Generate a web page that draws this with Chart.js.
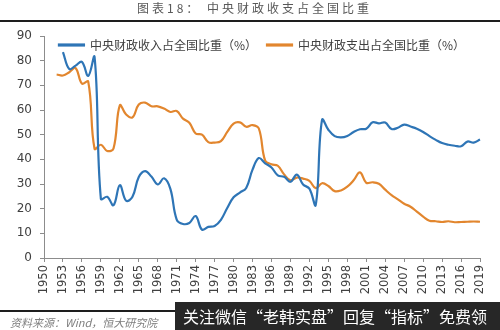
<!DOCTYPE html>
<html>
<head>
<meta charset="utf-8">
<script src="https://cdn.jsdelivr.net/npm/chart.js@4/dist/chart.umd.min.js"></script>
<style>
  body { margin: 0; background: #fff; }
  #wrap { position: relative; width: 500px; height: 330px; overflow: hidden; font-family: "Noto Sans CJK SC", sans-serif; }
  #chart { position: absolute; left: 0; top: 0; }
  .cap { position: absolute; top: 0; font-size: 12px; line-height: 16px; color: #595959; letter-spacing: 3px; white-space: nowrap; }
  .rule { position: absolute; left: 0; width: 500px; background: #1e1e1e; }
  .src { position: absolute; left: 10px; top: 314px; font-size: 11px; line-height: 16px; color: #7f7f7f; font-style: italic; white-space: nowrap; }
  .banner { position: absolute; left: 175px; top: 302px; width: 325px; height: 28px; background: #272727; color: #fff; font-size: 16px; line-height: 28px; padding-left: 8px; box-sizing: border-box; white-space: nowrap; }
</style>
</head>
<body>
<div id="wrap">
  <canvas id="chart" width="500" height="330"></canvas>
  <div class="cap" style="left:137px">图表18：</div>
  <div class="cap" style="left:207px">中央财政收支占全国比重</div>
  <div class="rule" style="top:20px;height:2px"></div>
  <div class="rule" style="top:310px;height:2px"></div>
  <div class="src">资料来源：Wind，恒大研究院</div>
  <div class="banner">关注微信“老韩实盘”回复“指标”免费领</div>
</div>
<script>
const years = [
  '1950','1951','1952','1953','1954','1955','1956','1957','1958','1959',
  '1960','1961','1962','1963','1964','1965','1966','1967','1968','1969',
  '1970','1971','1972','1973','1974','1975','1976','1977','1978','1979',
  '1980','1981','1982','1983','1984','1985','1986','1987','1988','1989',
  '1990','1991','1992','1993','1994','1995','1996','1997','1998','1999',
  '2000','2001','2002','2003','2004','2005','2006','2007','2008','2009',
  '2010','2011','2012','2013','2014','2015','2016','2017','2018','2019'
]

// 中央财政收入占全国比重（%）
const revenueShare = [
  null, null, null, 83.5, 76.6, 78.0, 79.5, 73.8, 81.5, 24.0,
  24.8, 21.4, 29.5, 23.2, 24.8, 32.8, 35.2, 33.0, 29.8, 32.3,
  28.0, 15.6, 13.8, 14.2, 17.0, 11.5, 12.6, 13.0, 15.5, 20.3,
  24.6, 26.5, 28.4, 35.8, 40.5, 38.4, 36.7, 33.5, 32.9, 30.9,
  33.8, 29.8, 28.1, 21.5, 56.0, 52.0, 49.4, 48.9, 49.5, 51.1,
  52.2, 52.4, 55.0, 54.6, 54.9, 52.3, 52.8, 54.1, 53.3, 52.4,
  51.1, 49.4, 47.9, 46.6, 45.9, 45.5, 45.3, 47.2, 46.8, 48.0
]

// 中央财政支出占全国比重（%）
const spendingShare = [
  null, null, 74.4, 74.0, 75.3, 77.0, 70.7, 71.5, 44.3, 45.9,
  43.4, 44.4, 61.9, 58.2, 57.0, 62.2, 63.0, 61.5, 61.5, 60.6,
  59.2, 59.6, 56.5, 54.8, 50.5, 50.0, 47.0, 46.8, 47.4, 51.1,
  54.5, 55.0, 53.2, 53.9, 52.5, 39.5, 38.0, 37.4, 33.9, 31.5,
  32.6, 32.2, 31.3, 28.3, 30.3, 29.2, 27.1, 27.4, 28.9, 31.5,
  34.7, 30.5, 30.7, 30.1, 27.7, 25.5, 23.8, 22.0, 20.8, 18.8,
  16.8, 15.1, 14.9, 14.6, 14.9, 14.5, 14.6, 14.7, 14.8, 14.7
]

const axisColor = '#8c8c8c'
const textColor = '#404040'

// the legend is laid out above the plot, then pushed down so it sits inside it
const legendNudge = {
  id: 'legendNudge',
  afterUpdate(chart) {
    chart.legend.top += 25
    chart.legend.bottom += 25
  }
}

new Chart(document.getElementById('chart'), {
  type: 'line',
  data: {
    labels: years,
    datasets: [{
      label: '中央财政收入占全国比重（%）',
      data: revenueShare,
      borderColor: '#2e75b6',
      backgroundColor: '#2e75b6',
      borderWidth: 2.2
    }, {
      label: '中央财政支出占全国比重（%）',
      data: spendingShare,
      borderColor: '#e2862e',
      backgroundColor: '#e2862e',
      borderWidth: 2.2
    }]
  },
  options: {
    responsive: false,
    animation: false,
    layout: { padding: { top: 4, right: 20, bottom: 0, left: 0 } },
    elements: {
      line: { tension: 0.4, fill: false },
      point: { radius: 0 }
    },
    scales: {
      x: {
        afterFit(scale) { scale.height = 72 },
        grid: { drawOnChartArea: false, tickLength: 4, color: axisColor },
        border: { color: axisColor },
        ticks: {
          autoSkip: false,
          minRotation: 90,
          maxRotation: 90,
          padding: 3,
          color: textColor,
          font: { family: 'DejaVu Sans', size: 11.5 },
          callback: function(value, index) {
            return index % 3 === 0 ? this.getLabelForValue(value) : null
          }
        }
      },
      y: {
        min: 0,
        max: 90,
        afterFit(scale) { scale.width = 44 },
        grid: { drawOnChartArea: false, tickLength: 4, color: axisColor },
        border: { color: axisColor },
        ticks: {
          stepSize: 10,
          padding: 8,
          color: textColor,
          font: { family: 'DejaVu Sans', size: 12 }
        }
      }
    },
    plugins: {
      legend: {
        position: 'top',
        fullSize: false,
        align: 'center',
        labels: {
          boxWidth: 25,
          boxHeight: 1,
          padding: 10,
          color: textColor,
          font: { family: 'Noto Sans CJK SC', size: 12 }
        }
      },
      tooltip: { enabled: false }
    }
  },
  plugins: [legendNudge]
})
</script>
</body>
</html>
